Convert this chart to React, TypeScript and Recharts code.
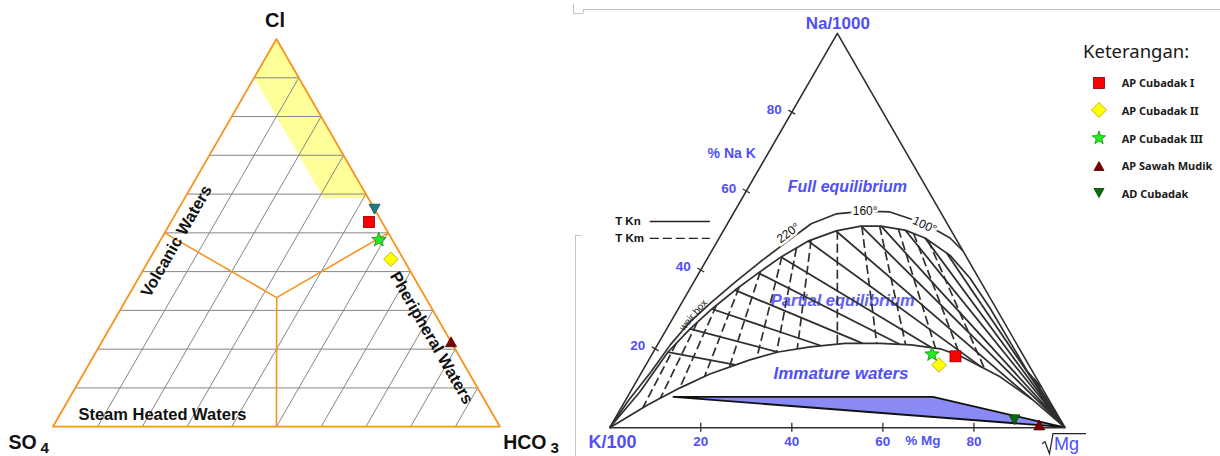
import React from 'react'
import { ScatterChart, Scatter, XAxis, YAxis } from 'recharts'

// ---------------- data ----------------
const sampleNames = ['AP Cubadak I', 'AP Cubadak II', 'AP Cubadak III', 'AP Sawah Mudik', 'AD Cubadak']

// Cl – SO4 – HCO3 (relative %)
const anionCl = [52.8, 43.2, 48.2, 21.9, 56.1]
const anionSO4 = [2.9, 2.8, 3.0, 0.0, 0.0]
const anionHCO3 = [44.3, 54.0, 48.8, 78.1, 43.9]

// Na/1000 – K/100 – √Mg (relative %)
const cationNa = [18.1, 15.9, 18.6, 0.7, 2.0]
const cationK = [15.0, 19.7, 19.9, 5.3, 10.1]
const cationMg = [66.9, 64.4, 61.5, 94.0, 87.9]

const gridSteps = [10, 20, 30, 40, 50, 60, 70, 80, 90]
const pctTicks = [20, 40, 60, 80]

// anion fields, [Cl, SO4, HCO3]
const matureField = [[100, 0, 0], [90, 10, 0], [59, 10, 31], [59, 0, 41]]
const fieldCentre = [33.3, 33.3, 33.4]
const fieldEnds = [[50, 50, 0], [50, 0, 50], [0, 50, 50]]

// Giggenbach curves, [Na, Mg] (K is the rest)
const outerCurve = [
  [0, 0], [7.0, 0.7], [14.1, 2.0], [21.0, 2.8], [26.8, 4.2], [31.9, 6.5], [36.9, 9.1], [42.0, 12.0],
  [46.8, 15.1], [51.7, 18.4], [54.2, 22.6], [54.9, 28.6], [54.7, 34.2], [51.7, 43.4], [48.1, 50.7], [44.8, 55.2],
]
const fullEquilibrium = [
  [0, 0], [9.1, 2.1], [19.2, 3.2], [25.0, 5.1], [30.1, 7.4], [34.9, 10.1], [39.2, 13.0], [43.3, 16.0],
  [47.3, 19.9], [49.9, 24.8], [51.1, 29.6], [51.1, 34.0], [50.1, 39.8], [48.1, 45.2], [43.7, 52.9],
  [37.9, 60.2], [30.3, 68.4], [21.7, 77.1], [14.1, 84.8], [10.3, 89.6],
]
const immatureLine = [
  [0, 0], [5.8, 5.5], [10.1, 10.4], [13.6, 15.2], [17.2, 22.2], [19.2, 27.4], [20.5, 33.8], [21.4, 41.0],
  [21.4, 48.7], [21.0, 55.7], [20.0, 62.6], [18.2, 67.9], [12.9, 79.3], [7.0, 89.5], [0, 100],
]
const mgField = [[7.8, 10.1], [7.8, 67.1], [0.2, 99.3]]
// TKn isotherms: Na/(Na+K) %, TKm isotherms: Mg/(Mg+K) %
const tknRatios = [19.8, 26.4, 32.5, 38.8, 45.1, 51.5, 59.1, 66.3, 72.7, 77.5, 83.3, 87.8, 92.0, 95.0]
const tkmRatios = [5, 8, 11.5, 16.5, 22, 28.5, 33.5, 39, 50, 61, 69, 77, 83, 88]

// ---------------- layout ----------------
const ARIAL = "'Liberation Sans', Arial, Helvetica, sans-serif"
const BLUE = '#5050f6'
const ORANGE = '#f7931e'
const INK = '#2f2f2f'

const LEFT = { w: 580, h: 456, x0: 52.9, x1: 500, base: 426.7, top: 39 }
const RIGHT = { left: 560, w: 660, h: 456, x0: 49.7, x1: 505, base: 427.7, top: 33.3 }

type P = { x: number; y: number }
type Geo = typeof LEFT

const domainsFor = (g: Geo) => ({
  x: [(-g.x0 / (g.x1 - g.x0)) * 100, ((g.w - g.x0) / (g.x1 - g.x0)) * 100],
  y: [(-(g.h - g.base) / (g.base - g.top)) * 100, (g.base / (g.base - g.top)) * 100],
})

const anionXY = (cl: number, so4: number, hco3: number): P => {
  const s = cl + so4 + hco3
  return { x: ((hco3 + cl / 2) / s) * 100, y: (cl / s) * 100 }
}
const cationXY = (na: number, mg: number): P => ({ x: mg + na / 2, y: na })

// crossings of segment a->b with a polyline, ordered along a->b
function crossings(a: P, b: P, poly: P[]) {
  const out: { t: number; p: P }[] = []
  const rx = b.x - a.x
  const ry = b.y - a.y
  for (let i = 0; i < poly.length - 1; i++) {
    const c = poly[i]
    const d = poly[i + 1]
    const sx = d.x - c.x
    const sy = d.y - c.y
    const den = rx * sy - ry * sx
    if (Math.abs(den) < 1e-9) continue
    const qx = c.x - a.x
    const qy = c.y - a.y
    const t = (qx * sy - qy * sx) / den
    const u = (qx * ry - qy * rx) / den
    if (t > 1e-4 && t <= 1 && u >= 0 && u <= 1) out.push({ t, p: { x: a.x + t * rx, y: a.y + t * ry } })
  }
  return out.sort((m, n) => m.t - n.t)
}

// ---------------- drawing helpers ----------------
const blank = () => <g />

type PathOpts = { stroke?: string; width?: number; dash?: string; fill?: string; closed?: boolean; pairs?: boolean }
const drawPath = (o: PathOpts) => (props: any) => {
  const pts: P[] = props.points || []
  let d = ''
  if (o.pairs) {
    for (let i = 0; i + 1 < pts.length; i += 2) d += `M${pts[i].x},${pts[i].y}L${pts[i + 1].x},${pts[i + 1].y}`
  } else {
    d = pts.map((p, i) => `${i ? 'L' : 'M'}${p.x},${p.y}`).join('') + (o.closed ? 'Z' : '')
  }
  return (
    <path d={d} fill={o.fill ?? 'none'} stroke={o.stroke ?? 'none'} strokeWidth={o.width ?? 1}
      strokeDasharray={o.dash} strokeLinejoin="round" />
  )
}

type Label = {
  text: string; x: number; y: number; size: number; weight?: number; italic?: boolean; color?: string
  rot?: number; anchor?: 'start' | 'middle' | 'end'; halo?: boolean; sub?: string; dx?: number; dy?: number
  font?: string; opacity?: number
}

const labelShape = (p: any) => {
  const d = p.payload as Label
  const x = p.cx + (d.dx ?? 0)
  const y = p.cy + (d.dy ?? 0)
  return (
    <text x={x} y={y} textAnchor={d.anchor ?? 'middle'} dominantBaseline="central"
      transform={d.rot ? `rotate(${d.rot} ${x} ${y})` : undefined}
      fontFamily={d.font ?? ARIAL} fontSize={d.size} fontWeight={d.weight ?? 700}
      fontStyle={d.italic ? 'italic' : 'normal'} fill={d.color ?? '#111'} opacity={d.opacity}
      stroke={d.halo ? '#fff' : 'none'} strokeWidth={d.halo ? 5 : 0} paintOrder="stroke">
      {d.text}
      {d.sub ? <tspan dx={4} dy={5} fontSize={d.size * 0.78}>{d.sub}</tspan> : null}
    </text>
  )
}

type GlyphStyle = { kind: string; fill: string; stroke: string }
const markerStyle: Record<string, GlyphStyle> = {
  'AP Cubadak I': { kind: 'square', fill: '#ff0000', stroke: '#8a0000' },
  'AP Cubadak II': { kind: 'diamond', fill: '#ffff00', stroke: '#b3a200' },
  'AP Cubadak III': { kind: 'star', fill: '#22ee22', stroke: '#0c8a0c' },
  'AP Sawah Mudik': { kind: 'up', fill: '#7a0000', stroke: '#4a0000' },
  'AD Cubadak': { kind: 'down', fill: '#0b6b0b', stroke: '#064006' },
}
const anionOverride: Record<string, Partial<GlyphStyle>> = { 'AD Cubadak': { fill: '#1f7c82', stroke: '#0f4f55' } }
const glyphSize: Record<string, number> = { square: 11, diamond: 14.5, star: 15, up: 11, down: 11 }

function Glyph({ kind, x, y, size, fill, stroke }: { kind: string; x: number; y: number; size: number; fill: string; stroke: string }) {
  const s = size
  const common = { fill, stroke, strokeWidth: 0.8 }
  if (kind === 'square') return <rect x={x - s / 2} y={y - s / 2} width={s} height={s} {...common} />
  if (kind === 'diamond') {
    const h = s / 2
    return <path d={`M${x},${y - h}L${x + h},${y}L${x},${y + h}L${x - h},${y}Z`} {...common} />
  }
  if (kind === 'star') {
    const R = s / 2
    const r = R * 0.42
    const pts = Array.from({ length: 10 }, (_, i) => {
      const a = -Math.PI / 2 + (i * Math.PI) / 5
      const rad = i % 2 ? r : R
      return `${x + rad * Math.cos(a)},${y + rad * Math.sin(a)}`
    })
    return <polygon points={pts.join(' ')} {...common} />
  }
  const h = s * 0.9
  if (kind === 'up') return <path d={`M${x},${y - h / 2}L${x + s / 2},${y + h / 2}L${x - s / 2},${y + h / 2}Z`} {...common} />
  return <path d={`M${x},${y + h / 2}L${x + s / 2},${y - h / 2}L${x - s / 2},${y - h / 2}Z`} {...common} />
}

const markerShape = (anion: boolean) => (p: any) => {
  const name = p.payload.name as string
  const st = { ...markerStyle[name], ...(anion ? anionOverride[name] : {}) }
  return <Glyph kind={st.kind} x={p.cx} y={p.cy} size={glyphSize[st.kind]} fill={st.fill} stroke={st.stroke} />
}

// ---------------- left: Cl–SO4–HCO3 ----------------
const leftLabels: Label[] = [
  { text: 'Cl', x: 49.7, y: 104.9, size: 20 },
  { text: 'SO', sub: '4', x: -9.95, y: -4.0, size: 19.5, anchor: 'start' },
  { text: 'HCO', sub: '3', x: 100.7, y: -4.0, size: 19.5, anchor: 'start' },
  { text: 'Volcanic Waters', x: 27.5, y: 47.95, size: 16.5, rot: -60 },
  { text: 'Pheripheral Waters', x: 84.8, y: 23.0, size: 16.5, rot: 60 },
  { text: 'Steam Heated Waters', x: 24.5, y: 3.3, size: 16.5 },
]

function AnionTernary() {
  const dom = domainsFor(LEFT)
  const field = matureField.map(([c, s, h]) => anionXY(c, s, h))
  const grid = [
    ...gridSteps.flatMap((c) => [anionXY(c, 100 - c, 0), anionXY(c, 0, 100 - c)]),
    ...gridSteps.flatMap((h) => [anionXY(0, 100 - h, h), anionXY(100 - h, 0, h)]),
  ]
  const frame = [anionXY(100, 0, 0), anionXY(0, 100, 0), anionXY(0, 0, 100)]
  const centre = anionXY(fieldCentre[0], fieldCentre[1], fieldCentre[2])
  const dividers = fieldEnds.flatMap(([c, s, h]) => [centre, anionXY(c, s, h)])
  const samples = sampleNames.map((name, i) => ({ name, ...anionXY(anionCl[i], anionSO4[i], anionHCO3[i]) }))

  return (
    <ScatterChart width={LEFT.w} height={LEFT.h} margin={{ top: 0, right: 0, bottom: 0, left: 0 }}>
      <XAxis type="number" dataKey="x" domain={dom.x} allowDataOverflow hide height={0} />
      <YAxis type="number" dataKey="y" domain={dom.y} allowDataOverflow hide width={0} />
      <Scatter data={field} shape={blank} line={drawPath({ fill: '#ffff99', closed: true })} isAnimationActive={false} />
      <Scatter data={grid} shape={blank} line={drawPath({ stroke: '#858585', width: 1, pairs: true })} isAnimationActive={false} />
      <Scatter data={dividers} shape={blank} line={drawPath({ stroke: ORANGE, width: 1.6, pairs: true })} isAnimationActive={false} />
      <Scatter data={frame} shape={blank} line={drawPath({ stroke: ORANGE, width: 1.8, closed: true })} isAnimationActive={false} />
      <Scatter data={leftLabels} shape={labelShape} isAnimationActive={false} />
      <Scatter data={samples} shape={markerShape(true)} isAnimationActive={false} />
    </ScatterChart>
  )
}

// ---------------- right: Na–K–Mg ----------------
const rightLabels: Label[] = [
  { text: 'Na/1000', x: 50.1, y: 102.5, size: 17, color: BLUE },
  { text: 'K/100', x: 0.6, y: -3.55, size: 18, color: BLUE },
  { text: '% Na K', x: 26.8, y: 69.7, size: 14, color: BLUE },
  { text: '% Mg', x: 68.8, y: -3.25, size: 13.5, color: BLUE },
  { text: 'Full equilibrium', x: 52.2, y: 61.1, size: 16, italic: true, color: BLUE },
  { text: 'Immature waters', x: 50.8, y: 13.8, size: 17, italic: true, color: BLUE },
  { text: '220°', x: 39.2, y: 49.4, size: 12, weight: 400, rot: -36, halo: true },
  { text: '160°', x: 56.1, y: 54.9, size: 12, weight: 400, halo: true },
  { text: '100°', x: 69.2, y: 51.4, size: 12, weight: 400, rot: 25, halo: true },
  { text: 'weir box', x: 18.3, y: 28.6, size: 10, weight: 400, rot: -50, color: '#222' },
  { text: 'T Kn', x: 4.0, y: 52.3, size: 11.5 },
  { text: 'T Km', x: 4.4, y: 48.0, size: 11.5 },
]
const partialLabel: Label[] = [
  { text: 'Partial equilibrium', x: 51.2, y: 32.4, size: 16.5, italic: true, color: BLUE, opacity: 0.9 },
]
const isoKeyKn = [{ x: 8.8, y: 52.3 }, { x: 22.0, y: 52.3 }]
const isoKeyKm = [{ x: 8.8, y: 48.0 }, { x: 22.0, y: 48.0 }]

// unit vector across the Na–K side, in pixels, for the tick marks
const sideLen = Math.hypot((RIGHT.x1 - RIGHT.x0) / 2, RIGHT.base - RIGHT.top)
const sideNx = (RIGHT.base - RIGHT.top) / sideLen
const sideNy = (RIGHT.x1 - RIGHT.x0) / 2 / sideLen

const sideTickShape = (p: any) => (
  <g>
    <line x1={p.cx - 4 * sideNx} y1={p.cy - 4 * sideNy} x2={p.cx + 4 * sideNx} y2={p.cy + 4 * sideNy} stroke={INK} strokeWidth={1.3} />
    <text x={p.cx - 17.5} y={p.cy - 3} textAnchor="middle" dominantBaseline="central" fontFamily={ARIAL}
      fontSize={13.5} fontWeight={700} fill={BLUE}>{p.payload.v}</text>
  </g>
)
const baseTickShape = (p: any) => (
  <g>
    <line x1={p.cx} y1={p.cy - 5} x2={p.cx} y2={p.cy + 4} stroke={INK} strokeWidth={1.3} />
    <text x={p.cx} y={p.cy + 13.5} textAnchor="middle" dominantBaseline="central" fontFamily={ARIAL}
      fontSize={13.5} fontWeight={700} fill={BLUE}>{p.payload.v}</text>
  </g>
)
const rootMgShape = (p: any) => (
  <g>
    <path d={`M${p.cx - 23},${p.cy + 16}L${p.cx - 20},${p.cy + 14}L${p.cx - 15.5},${p.cy + 26}L${p.cx - 12},${p.cy + 6}L${p.cx + 21},${p.cy + 6}`}
      fill="none" stroke="#222" strokeWidth={1.2} />
    <text x={p.cx - 11} y={p.cy + 22.5} fontFamily={ARIAL} fontSize={18} fill={BLUE}>Mg</text>
  </g>
)

function CationTernary() {
  const dom = domainsFor(RIGHT as Geo)
  const fe = fullEquilibrium.map(([na, mg]) => cationXY(na, mg))
  const lc = immatureLine.map(([na, mg]) => cationXY(na, mg))
  const outer = outerCurve.map(([na, mg]) => cationXY(na, mg))
  const blueField = mgField.map(([na, mg]) => cationXY(na, mg))
  const naCorner = cationXY(100, 0)
  const kCorner = cationXY(0, 0)
  const mgCorner = cationXY(0, 100)

  // K–Na isotherms fan out of the Mg corner, K–Mg isotherms out of the Na corner
  const tkn = tknRatios.flatMap((r) => {
    const far = cationXY(r, 0)
    const low = crossings(mgCorner, far, lc)[0] ?? { t: 0, p: mgCorner }
    const top = crossings(mgCorner, far, fe).find((h) => h.t > low.t + 1e-4)
    return top ? [low.p, top.p] : []
  })
  const tkm = tkmRatios.flatMap((r) => {
    const foot = cationXY(0, r)
    const top = crossings(naCorner, foot, fe)[0]
    const low = top ? crossings(naCorner, foot, lc).find((h) => h.t > top.t) : undefined
    return top && low ? [top.p, low.p] : []
  })

  const samples = sampleNames.map((name, i) => {
    const s = cationNa[i] + cationK[i] + cationMg[i]
    return { name, ...cationXY((cationNa[i] / s) * 100, (cationMg[i] / s) * 100) }
  })
  const sideTicks = pctTicks.map((v) => ({ v, ...cationXY(v, 0) }))
  const baseTicks = pctTicks.map((v) => ({ v, ...cationXY(0, v) }))

  return (
    <ScatterChart width={RIGHT.w} height={RIGHT.h} margin={{ top: 0, right: 0, bottom: 0, left: 0 }}>
      <XAxis type="number" dataKey="x" domain={dom.x} allowDataOverflow hide height={0} />
      <YAxis type="number" dataKey="y" domain={dom.y} allowDataOverflow hide width={0} />
      <Scatter data={blueField} shape={blank} line={drawPath({ fill: '#8a8af6', stroke: '#111', width: 1.8, closed: true })} isAnimationActive={false} />
      <Scatter data={partialLabel} shape={labelShape} isAnimationActive={false} />
      <Scatter data={[naCorner, kCorner, mgCorner]} shape={blank} line={drawPath({ stroke: INK, width: 1.6, closed: true })} isAnimationActive={false} />
      <Scatter data={tkn} shape={blank} line={drawPath({ stroke: INK, width: 1.8, pairs: true })} isAnimationActive={false} />
      <Scatter data={tkm} shape={blank} line={drawPath({ stroke: INK, width: 1.7, dash: '9 4', pairs: true })} isAnimationActive={false} />
      <Scatter data={lc} shape={blank} line={drawPath({ stroke: INK, width: 1.7 })} isAnimationActive={false} />
      <Scatter data={fe} shape={blank} line={drawPath({ stroke: INK, width: 1.7 })} isAnimationActive={false} />
      <Scatter data={outer} shape={blank} line={drawPath({ stroke: INK, width: 1.7 })} isAnimationActive={false} />
      <Scatter data={isoKeyKn} shape={blank} line={drawPath({ stroke: '#222', width: 1.4 })} isAnimationActive={false} />
      <Scatter data={isoKeyKm} shape={blank} line={drawPath({ stroke: '#222', width: 1.4, dash: '9 4' })} isAnimationActive={false} />
      <Scatter data={rightLabels} shape={labelShape} isAnimationActive={false} />
      <Scatter data={sideTicks} shape={sideTickShape} isAnimationActive={false} />
      <Scatter data={baseTicks} shape={baseTickShape} isAnimationActive={false} />
      <Scatter data={[mgCorner]} shape={rootMgShape} isAnimationActive={false} />
      <Scatter data={samples} shape={markerShape(false)} isAnimationActive={false} />
    </ScatterChart>
  )
}

// ---------------- legend ----------------
function Keterangan() {
  return (
    <div style={{ position: 'absolute', left: 1083, top: 38, fontFamily: "'Noto Sans', 'Open Sans', sans-serif", color: '#1a1a1a' }}>
      <div style={{ fontSize: 18.5, lineHeight: '26px', whiteSpace: 'nowrap' }}>Keterangan:</div>
      {sampleNames.map((name, i) => {
        const st = markerStyle[name]
        return (
          <div key={name} style={{ position: 'absolute', left: 8.3, top: 36.7 + i * 27.65, height: 16, display: 'flex', alignItems: 'center', whiteSpace: 'nowrap' }}>
            <svg width={16} height={16} style={{ display: 'block' }}>
              <Glyph kind={st.kind} x={8} y={8} size={st.kind === 'square' ? 11 : st.kind === 'diamond' ? 15 : st.kind === 'star' ? 14 : 10} fill={st.fill} stroke={st.stroke} />
            </svg>
            <span style={{ marginLeft: 14.4, fontSize: 11, fontWeight: 700 }}>{name}</span>
          </div>
        )
      })}
    </div>
  )
}

const rule = '#c4c4c4'

export default function App() {
  return (
    <div style={{ position: 'absolute', left: 0, top: 0, width: 1220, height: 456, background: '#fff', overflow: 'hidden' }}>
      <div style={{ position: 'absolute', left: 0, top: 0 }}>
        <AnionTernary />
      </div>
      {/* page rules around the second panel */}
      <div style={{ position: 'absolute', left: 573, top: 4, width: 1, height: 9, background: rule }} />
      <div style={{ position: 'absolute', left: 573, top: 12.5, width: 10, height: 1, background: rule }} />
      <div style={{ position: 'absolute', left: 582.5, top: 9, width: 1, height: 4, background: rule }} />
      <div style={{ position: 'absolute', left: 582.5, top: 9, width: 640, height: 1, background: rule }} />
      <div style={{ position: 'absolute', left: 574.5, top: 235, width: 1, height: 221, background: rule }} />
      <div style={{ position: 'absolute', left: 574.5, top: 235, width: 7, height: 1, background: rule }} />
      <div style={{ position: 'absolute', left: RIGHT.left, top: 0 }}>
        <CationTernary />
      </div>
      <Keterangan />
    </div>
  )
}
